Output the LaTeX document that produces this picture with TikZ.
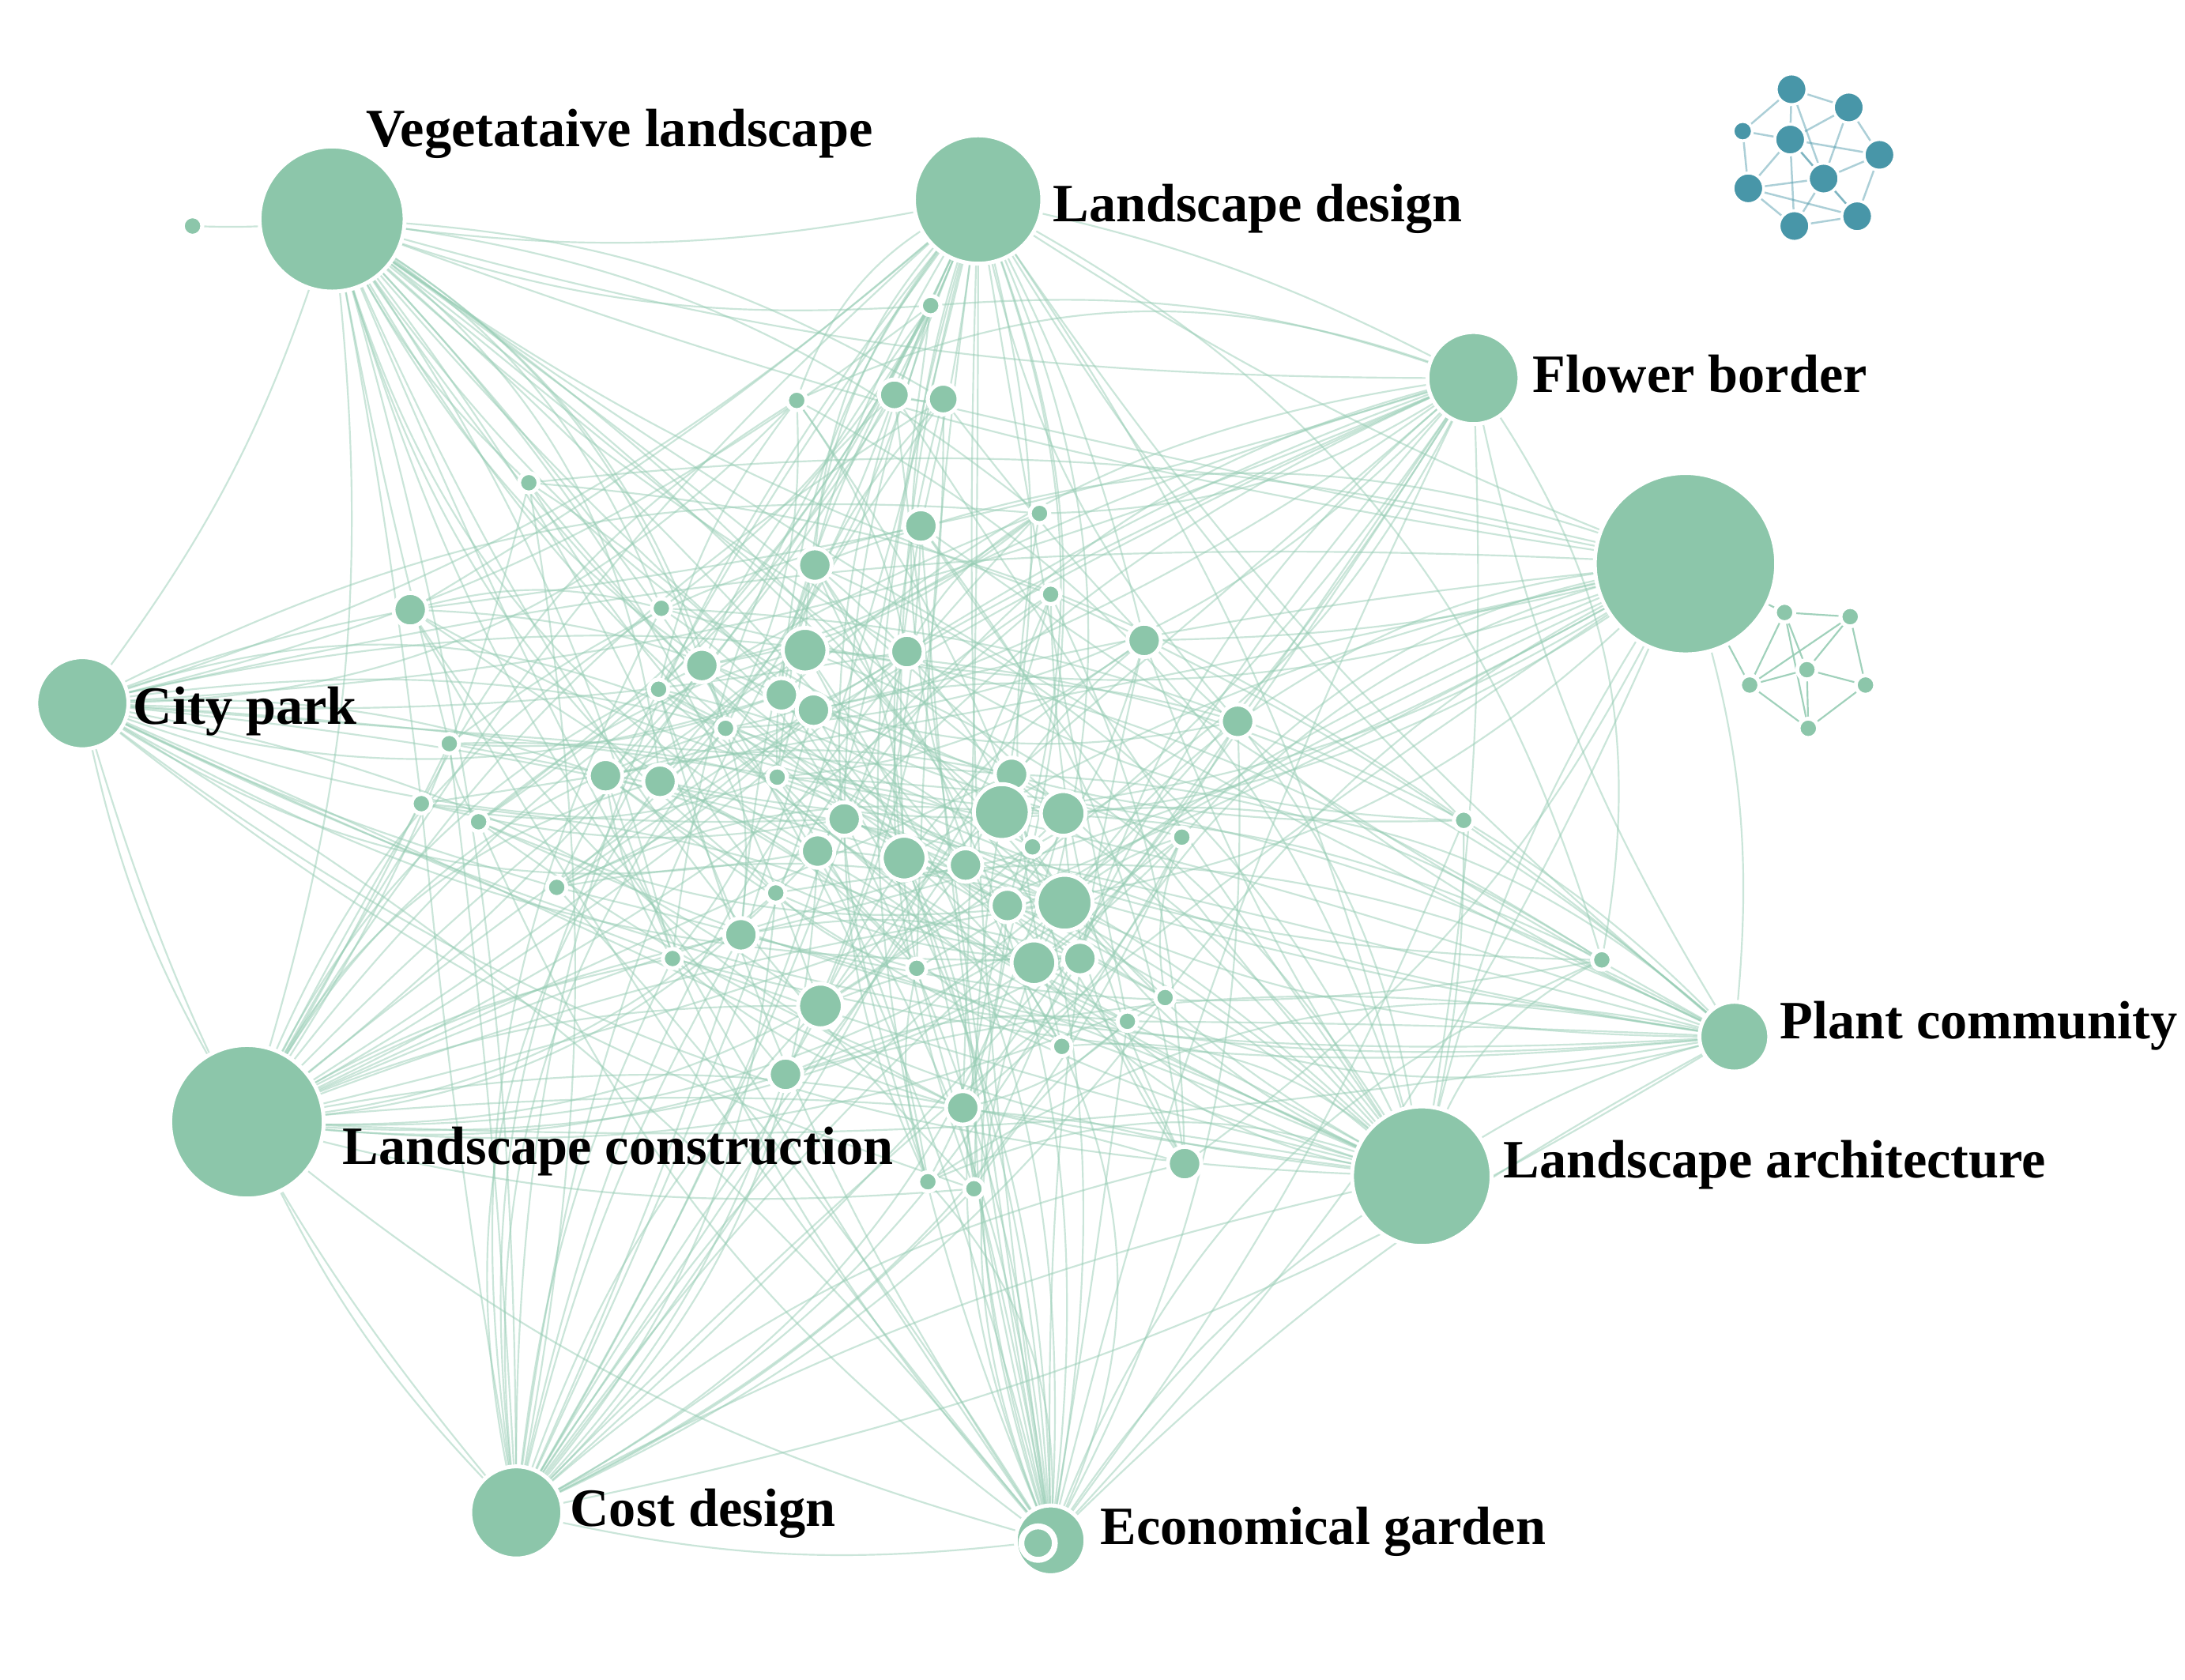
\documentclass[tikz,border=0pt]{standalone}
\usepackage{fontspec}
\setmainfont{Liberation Serif}
\begin{document}
\begin{tikzpicture}[x=0.01cm,y=-0.01cm,
  edge/.style={draw={rgb,255:red,150;green,205;blue,180},opacity=0.5,line width=0.35pt},
  dot/.style={circle,fill={rgb,255:red,140;green,198;blue,170},draw=white,line width=0.8pt,inner sep=0pt},
  tdot/.style={circle,fill={rgb,255:red,72;green,150;blue,168},draw=white,line width=0.6pt,inner sep=0pt},
  lab/.style={anchor=west,font=\fontsize{11}{13}\selectfont\bfseries,inner sep=0pt}]
\useasboundingbox[fill=white] (0,0) rectangle (1566,1204);
% hubs
\foreach \n/\x/\y in {VL/238/157,LD/701/143,FB/1056/271,BG/1208/404,CP/59/504,PC/1243/743,LC/177/804,LA/1019/843,CD/370/1084,EG/753/1104,S0/138/162}
  \coordinate (\n) at (\x,\y);
% interior
\foreach \x/\y/\r [count=\i] in {667/219/7,641/283/11,676/286/11,571/287/7,379/346/7,660/377/12,745/368/7,584/405/12,753/426/7,294/437/12,474/436/7,577/466/16,650/467/12,820/459/12,503/477/12,560/498/12,583/509/12,472/494/7,520/522/7,887/517/12,322/533/7,434/556/12,473/560/12,557/557/7,725/555/12,718/582/20,762/583/16,605/587/12,302/576/7,343/589/7,586/610/12,648/615/16,692/620/12,740/607/7,847/600/7,1049/588/7,763/647/20,722/649/12,556/640/7,399/636/7,531/670/12,741/690/16,774/687/12,657/694/7,482/687/7,1148/688/7,835/715/7,808/732/7,588/721/16,761/750/7,563/770/12,690/794/12,849/834/12,665/847/7,698/852/7}
  \coordinate (n\i) at (\x,\y);
% hub to hub edges
\foreach \a/\b/\c in {VL/LD/-10,VL/FB/-8,VL/BG/-6,VL/CP/10,VL/LC/12,VL/LA/6,VL/PC/-5,VL/CD/8,VL/EG/-6,LD/FB/8,LD/BG/-6,LD/CP/12,LD/LC/-10,LD/LA/10,LD/PC/-8,LD/CD/6,LD/EG/-5,FB/CP/10,FB/LC/-8,FB/LA/6,FB/PC/-10,FB/CD/8,FB/EG/-6,BG/CP/-8,BG/LC/8,BG/LA/-10,BG/PC/12,BG/CD/-6,BG/EG/10,CP/LC/-10,CP/LA/-6,CP/PC/8,CP/CD/-12,CP/EG/10,LC/LA/8,LC/PC/-6,LC/CD/-10,LC/EG/-12,LA/PC/10,LA/CD/-8,LA/EG/-12,PC/CD/10,PC/EG/-8,CD/EG/-10,VL/S0/5,LD/CD/-20,VL/EG/15,CP/PC/-15,LC/FB/15,CD/BG/18,EG/LD/20,LA/CP/18}
  \draw[edge] (\a) to[bend left=\c] (\b);
% hub to interior
\foreach \h/\o/\s in {VL/1/2,LD/2/2,FB/1/3,BG/2/3,CP/1/3,PC/3/3,LC/1/2,LA/2/2,CD/1/2,EG/2/2}{
  \foreach \i in {\o,...,55}{
    \pgfmathtruncatemacro{\m}{mod(\i-\o,\s)}
    \ifnum\m=0
      \pgfmathtruncatemacro{\b}{mod(\i*13,50)-25}
      \draw[edge] (\h) to[bend left=\b] (n\i);
    \fi}}
% interior to interior
\foreach \i in {1,...,55}{
  \pgfmathtruncatemacro{\j}{mod(\i*17+5,55)+1}
  \pgfmathtruncatemacro{\k}{mod(\i*29+11,55)+1}
  \ifnum\i=\j\else\draw[edge] (n\i) to[bend left=15] (n\j);\fi
  \ifnum\i=\k\else\draw[edge] (n\i) to[bend right=12] (n\k);\fi}
% small cluster edges
\foreach \x/\y [count=\i] in {1279/439,1326/442,1295/480,1254/491,1337/491,1296/522}
  \coordinate (c\i) at (\x,\y);
\foreach \a/\b in {c1/c2,c1/c3,c1/c4,c2/c3,c2/c5,c3/c4,c3/c5,c3/c6,c4/c6,c5/c6,c1/c6,c2/c4,c1/BG,c4/BG}
  \draw[edge,opacity=0.9] (\a) -- (\b);
% interior nodes
\foreach \x/\y/\r [count=\i] in {667/219/7,641/283/11,676/286/11,571/287/7,379/346/7,660/377/12,745/368/7,584/405/12,753/426/7,294/437/12,474/436/7,577/466/16,650/467/12,820/459/12,503/477/12,560/498/12,583/509/12,472/494/7,520/522/7,887/517/12,322/533/7,434/556/12,473/560/12,557/557/7,725/555/12,718/582/20,762/583/16,605/587/12,302/576/7,343/589/7,586/610/12,648/615/16,692/620/12,740/607/7,847/600/7,1049/588/7,763/647/20,722/649/12,556/640/7,399/636/7,531/670/12,741/690/16,774/687/12,657/694/7,482/687/7,1148/688/7,835/715/7,808/732/7,588/721/16,761/750/7,563/770/12,690/794/12,849/834/12,665/847/7,698/852/7}
  \node[dot,minimum size=2*\r*0.01cm] (d\i) at (\x,\y) {};
% hub nodes
\foreach \n/\r in {VL/52,LD/46,FB/33,BG/65,CP/33,PC/25,LC/55,LA/50,CD/33,EG/25,S0/7}
  \node[dot,minimum size=2*\r*0.01cm] (h\n) at (\n) {};
\node[dot,minimum size=0.24cm,line width=1.2pt] (egin) at (744,1106) {};
\foreach \i in {1,...,6} \node[dot,minimum size=0.14cm] (cd\i) at (c\i) {};
% teal cluster
\foreach \x/\y/\r [count=\i] in {1284/64/11,1325/77/11,1249/94/7,1283/100/11,1347/111/11,1307/128/11,1253/135/11,1331/155/11,1286/162/11}
  \coordinate (t\i) at (\x,\y);
\foreach \a/\b in {t1/t2,t1/t3,t1/t4,t2/t4,t2/t5,t3/t4,t4/t5,t4/t6,t4/t7,t5/t6,t6/t7,t6/t8,t6/t9,t7/t9,t8/t9,t5/t8,t3/t7,t1/t6,t2/t6,t4/t9,t7/t8,t4/t8}
  \draw[draw={rgb,255:red,72;green,150;blue,168},opacity=0.45,line width=0.4pt] (\a) -- (\b);
\foreach \x/\y/\r [count=\i] in {1284/64/11,1325/77/11,1249/94/7,1283/100/11,1347/111/11,1307/128/11,1253/135/11,1331/155/11,1286/162/11}
  \node[tdot,minimum size=2*\r*0.01cm] (td\i) at (t\i) {};
% labels
\node[lab] (lVL) at (262,96) {Vegetataive landscape};
\node[lab] (lLD) at (754,150) {Landscape design};
\node[lab] (lFB) at (1098,268) {Flower border};
\node[lab] (lCP) at (95,510) {City park};
\node[lab] (lPC) at (1275,735) {Plant community};
\node[lab] (lLC) at (245,825) {Landscape construction};
\node[lab] (lLA) at (1077,835) {Landscape architecture};
\node[lab] (lCD) at (408,1085) {Cost design};
\node[lab] (lEG) at (788,1098) {Economical garden};
\end{tikzpicture}
\end{document}
